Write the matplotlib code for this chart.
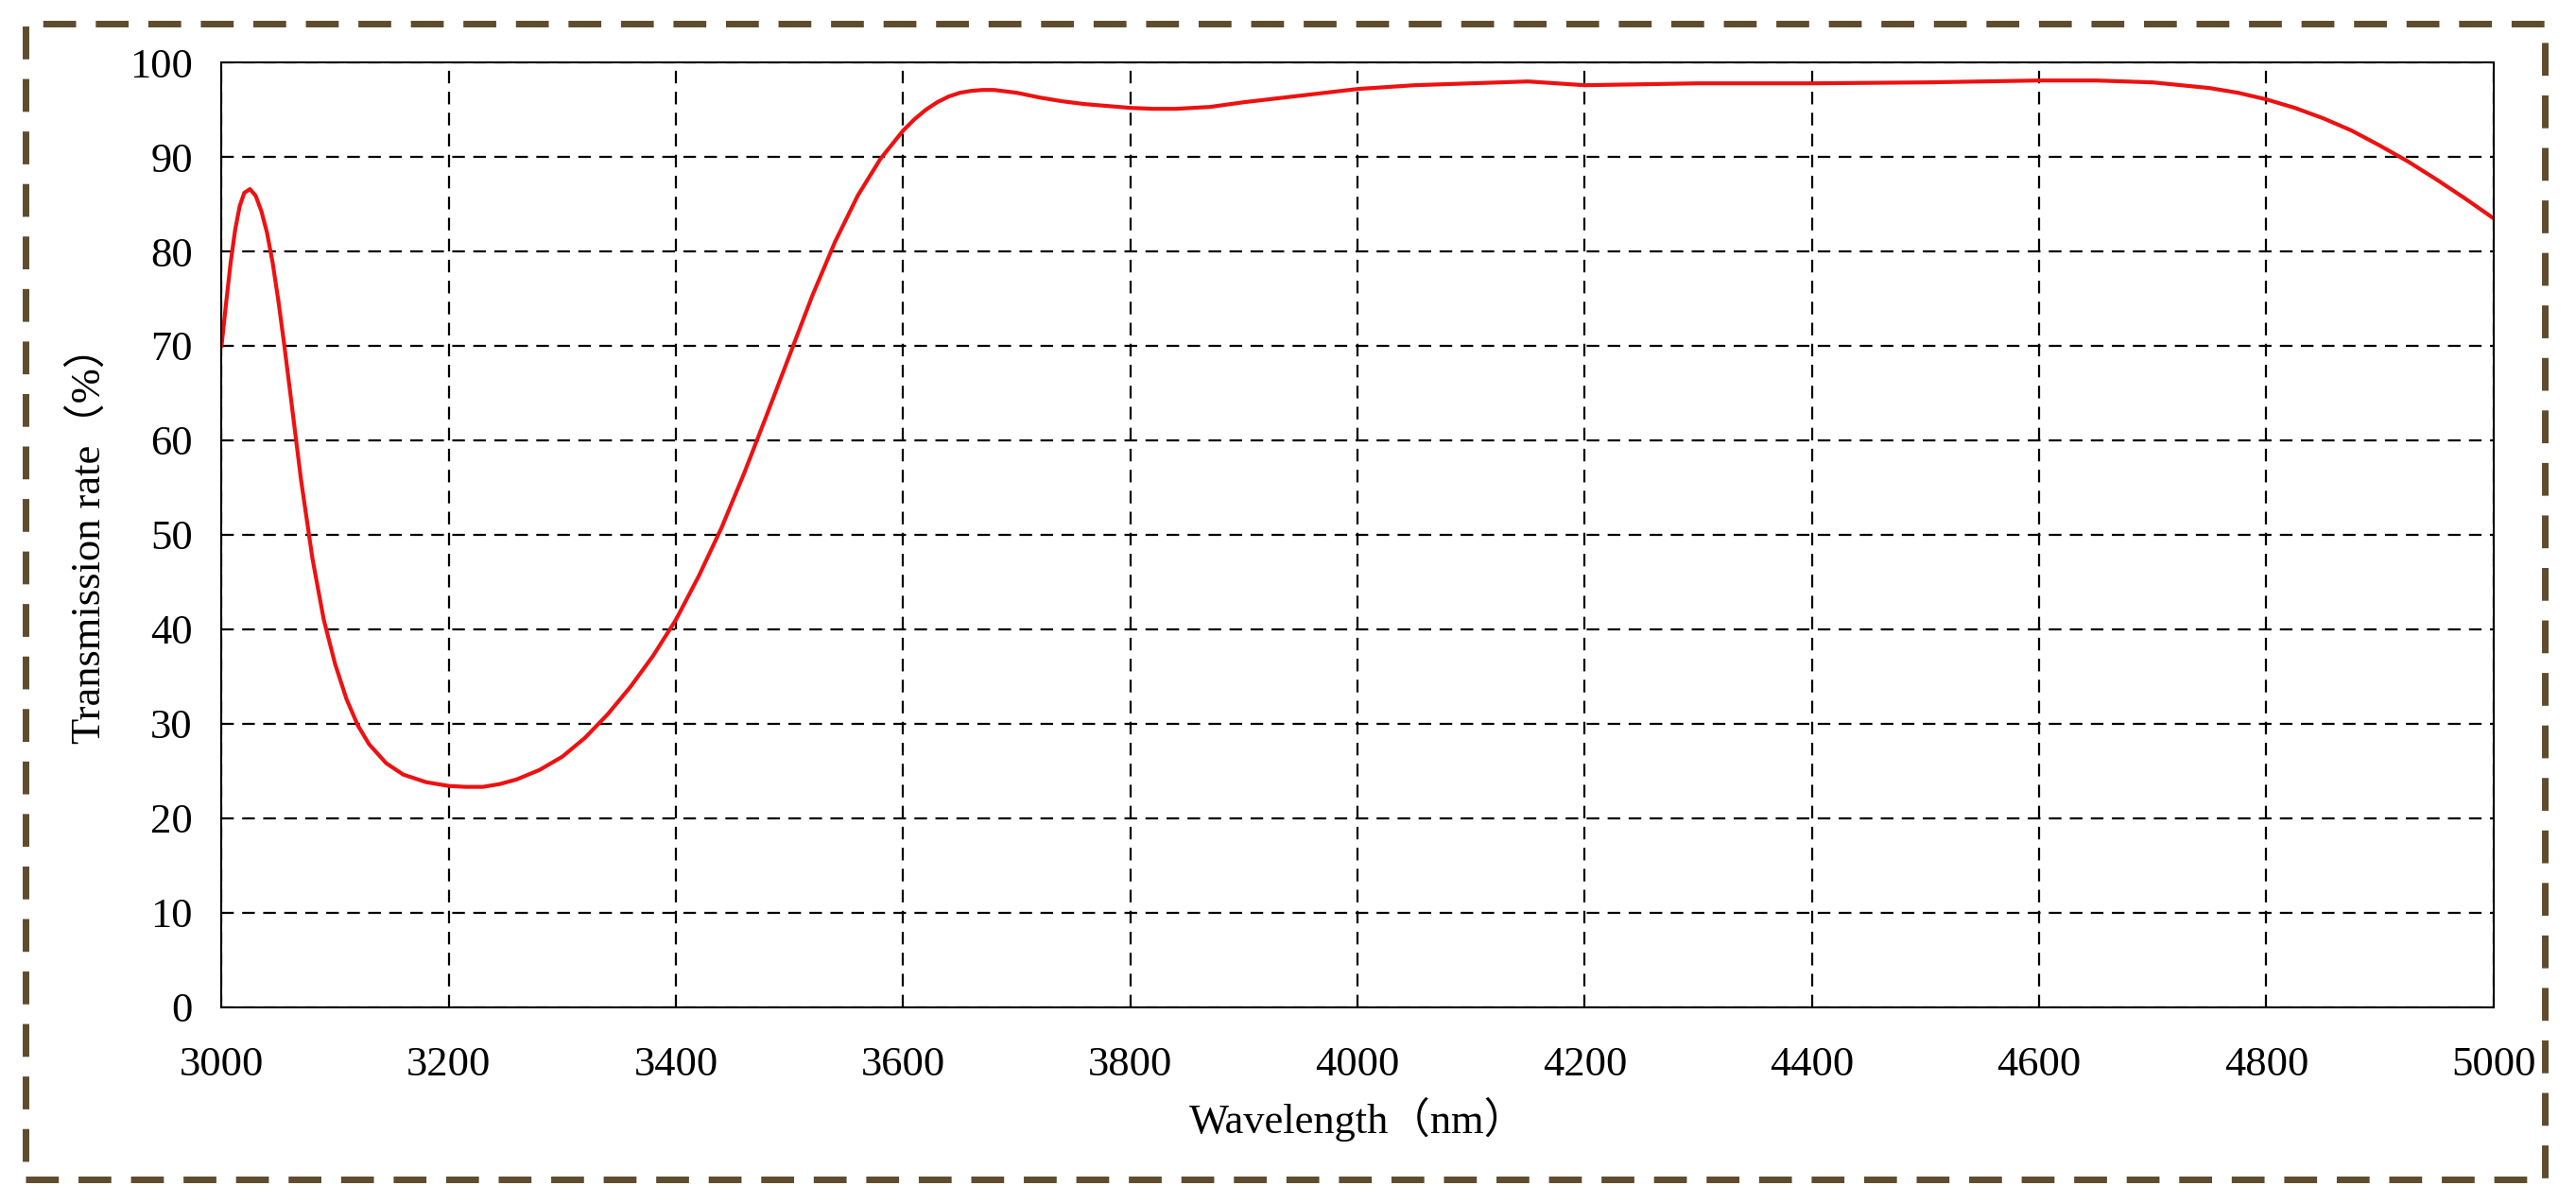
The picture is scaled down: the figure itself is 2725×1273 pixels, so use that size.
import matplotlib
matplotlib.use("Agg")
import matplotlib.pyplot as plt
from matplotlib.patches import Rectangle

wavelength = [3000, 3004, 3008, 3012, 3016, 3020, 3025, 3030, 3035, 3040, 3045, 3050, 3055, 3060, 3070, 3080, 3090, 3100,
              3110, 3120, 3130, 3145, 3160, 3180, 3200, 3215, 3230, 3245, 3260, 3280, 3300, 3320, 3340, 3360, 3380, 3400,
              3420, 3440, 3460, 3480, 3500, 3520, 3540, 3560, 3580, 3600, 3610, 3620, 3630, 3640, 3650, 3660, 3670, 3680,
              3700, 3720, 3740, 3760, 3780, 3800, 3820, 3840, 3870, 3900, 3950, 4000, 4050, 4100, 4150, 4200,
              4300, 4400, 4500, 4600, 4650, 4700, 4750, 4775, 4800, 4825, 4850, 4875, 4900, 4925, 4950, 4975, 5000]
transmission = [70, 74.5, 78.8, 82.3, 84.8, 86.2, 86.6, 85.9, 84.3, 82, 78.8, 74.8, 70.3, 65.5, 55.8, 47.5, 41, 36.3,
                32.6, 29.8, 27.8, 25.8, 24.6, 23.8, 23.4, 23.3, 23.3, 23.6, 24.1, 25.1, 26.5, 28.5, 31, 33.9, 37.2, 41,
                45.6, 50.7, 56.5, 62.7, 69, 75.3, 81, 85.9, 89.8, 92.8, 94, 95, 95.8, 96.4, 96.8, 97, 97.1, 97.1,
                96.8, 96.3, 95.9, 95.6, 95.4, 95.2, 95.1, 95.1, 95.3, 95.8, 96.5, 97.2, 97.6, 97.8, 98, 97.6,
                97.8, 97.8, 97.9, 98.1, 98.1, 97.9, 97.3, 96.8, 96.1, 95.2, 94.1, 92.8, 91.2, 89.5, 87.6, 85.6, 83.5]
xticks = list(range(3000, 5001, 200))
yticks = list(range(0, 101, 10))

plt.rcParams['font.family'] = ['Liberation Serif', 'Noto Sans CJK SC', 'DejaVu Sans']
fig = plt.figure(figsize=(27.25, 12.73), dpi=100)
ax = fig.add_axes([0.086, 0.163, 0.882, 0.785])
ax.plot(wavelength, transmission, color='#ee1111', lw=3)
ax.set_xlim(3000, 5000)
ax.set_ylim(0, 100)
ax.set_xticks(xticks)
ax.set_yticks(yticks)
ax.grid(True, color='black', linestyle=(0, (6, 4)), lw=1.6)
ax.tick_params(axis='both', length=0, labelsize=32)
ax.tick_params(axis='x', pad=30)
ax.tick_params(axis='y', pad=22)
for s in ax.spines.values():
    s.set_color('black'); s.set_linewidth(1.5)
ax.set_xlabel('Wavelength（nm）', fontsize=32, labelpad=10)
ax.set_ylabel('Transmission rate（%）', fontsize=32, labelpad=16)
fig.patches.append(Rectangle((0.010, 0.02), 0.978, 0.96, transform=fig.transFigure,
                             fill=False, edgecolor='#5e4c2c', lw=5, linestyle=(0, (5, 3))))
fig.savefig('out.png', dpi=100)
